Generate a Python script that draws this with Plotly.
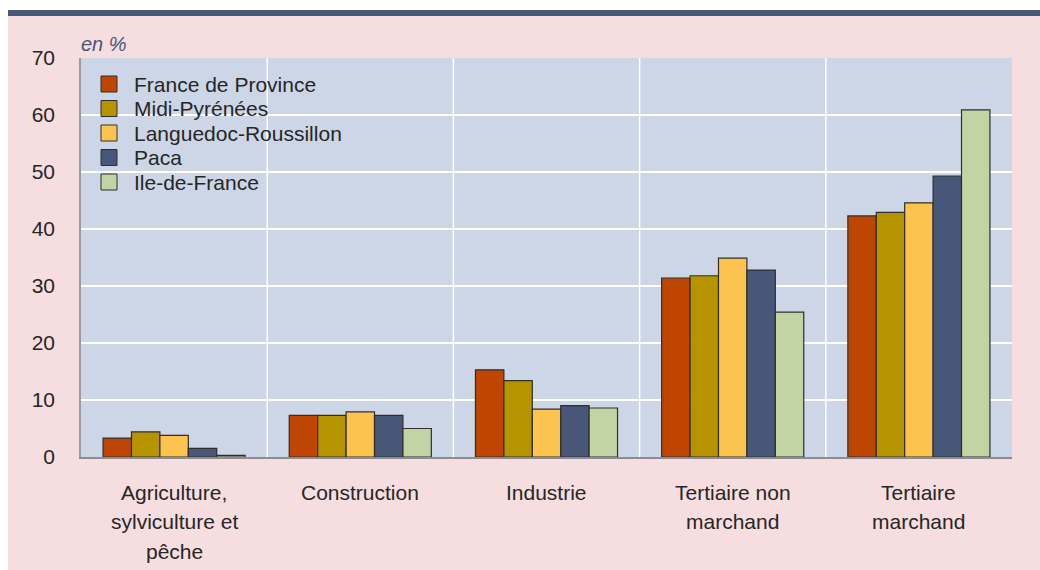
import plotly.graph_objects as go

# Sectors (category axis), with the line breaks used under the axis
sectors = ["Agriculture, sylviculture et pêche", "Construction", "Industrie",
           "Tertiaire non marchand", "Tertiaire marchand"]
sector_lines = [["Agriculture,", "sylviculture et", "pêche"],
                ["Construction"],
                ["Industrie"],
                ["Tertiaire non", "marchand"],
                ["Tertiaire", "marchand"]]

# Share of jobs by sector, in %
france_province = [3.3, 7.3, 15.3, 31.4, 42.3]
midi_pyrenees = [4.4, 7.3, 13.4, 31.8, 42.9]
languedoc_roussillon = [3.8, 7.9, 8.4, 34.9, 44.6]
paca = [1.5, 7.3, 9.0, 32.8, 49.3]
ile_de_france = [0.3, 5.0, 8.6, 25.4, 60.9]

series = [
    ("France de Province", france_province, "#bf4600"),
    ("Midi-Pyrénées", midi_pyrenees, "#b59400"),
    ("Languedoc-Roussillon", languedoc_roussillon, "#fcc44f"),
    ("Paca", paca, "#485677"),
    ("Ile-de-France", ile_de_france, "#c2d3a4"),
]

y_ticks = [0, 10, 20, 30, 40, 50, 60, 70]

FONT = "Liberation Sans, Arial, sans-serif"
TEXT = "#262626"

# plot area geometry in pixels (used to place the hand-drawn legend)
L, R, T, B = 81, 28, 58, 113
W, H = 1040, 570
PW, PH = W - L - R, H - T - B


def px_x(x):
    return (x - L) / PW


def px_y(y):
    return (H - B - y) / PH


fig = go.Figure()
for name, vals, col in series:
    fig.add_trace(go.Bar(
        x=sectors, y=vals, name=name, showlegend=False,
        marker=dict(color=col, line=dict(color="#2e2e2e", width=1.2)),
    ))

# Vertical separators between sectors
for i in range(len(sectors) - 1):
    fig.add_shape(type="line", xref="x", yref="y", x0=i + 0.5, x1=i + 0.5,
                  y0=0, y1=70, line=dict(color="white", width=1.5), layer="below")

# Legend: square swatches with labels
for k, (name, vals, col) in enumerate(series):
    cy = 84 + 24.5 * k
    fig.add_shape(type="rect", xref="paper", yref="paper",
                  x0=px_x(101), x1=px_x(117), y0=px_y(cy + 8), y1=px_y(cy - 8),
                  fillcolor=col, line=dict(color="#2e2e2e", width=1), layer="above")
    fig.add_annotation(text=name, xref="paper", yref="paper",
                       x=px_x(132), y=px_y(cy), xanchor="left", yanchor="middle",
                       showarrow=False, font=dict(family=FONT, size=21, color=TEXT))

# Page frame: white margin, dark header band
fig.add_shape(type="rect", xref="paper", yref="paper",
              x0=px_x(-10), x1=px_x(8), y0=px_y(600), y1=px_y(-20),
              fillcolor="white", line=dict(width=0), layer="above")
fig.add_shape(type="rect", xref="paper", yref="paper",
              x0=px_x(-10), x1=px_x(1050), y0=px_y(10), y1=px_y(-20),
              fillcolor="white", line=dict(width=0), layer="above")
fig.add_shape(type="rect", xref="paper", yref="paper",
              x0=px_x(8), x1=px_x(1050), y0=px_y(16), y1=px_y(10),
              fillcolor="#48587a", line=dict(width=0), layer="above")

# Unit label
fig.add_annotation(text="<i>en %</i>", xref="paper", yref="paper",
                   x=px_x(79), y=px_y(44), xanchor="left", yanchor="middle",
                   showarrow=False, font=dict(family=FONT, size=20, color="#4a5578"))

# Sector labels under the axis
for i, lines in enumerate(sector_lines):
    for j, line in enumerate(lines):
        fig.add_annotation(text=line, xref="x", yref="paper", x=i, y=0,
                           yanchor="middle", yshift=-(35 + 29.5 * j),
                           showarrow=False,
                           font=dict(family=FONT, size=21, color=TEXT))

fig.update_layout(
    width=W, height=H,
    margin=dict(l=L, r=R, t=T, b=B),
    paper_bgcolor="#f5dde0",
    plot_bgcolor="#ccd6e6",
    barmode="group", bargap=0.237, bargroupgap=0,
    font=dict(family=FONT, size=21, color=TEXT),
    showlegend=False,
    xaxis=dict(showticklabels=False, showgrid=False, zeroline=False,
               showline=True, linecolor="#8c8c94", linewidth=1.5, ticks=""),
    yaxis=dict(range=[0, 70], tickvals=y_ticks, showgrid=True,
               gridcolor="white", gridwidth=1.5, zeroline=False,
               showline=True, linecolor="#9a9aa2", linewidth=1.5,
               ticks="", ticklabelstandoff=20,
               tickfont=dict(family=FONT, size=21, color=TEXT)),
)

fig.write_html("out.html")
